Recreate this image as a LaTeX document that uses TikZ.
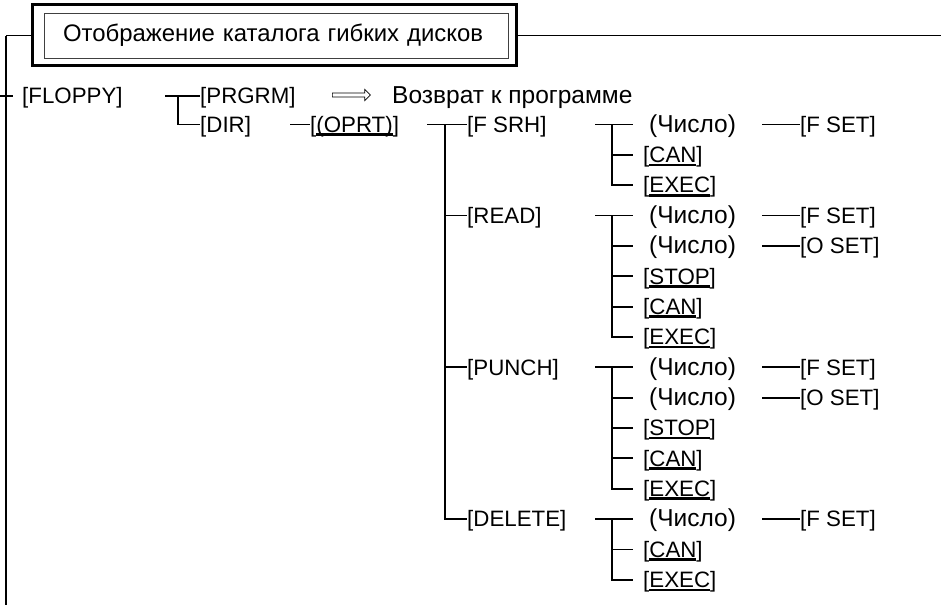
\documentclass[tikz,border=0pt]{standalone}
\usepackage{fontspec}
\setmainfont{Liberation Sans}
\usetikzlibrary{positioning,arrows.meta,shapes.arrows}

\newcommand{\keyul}[1]{\setbox0\hbox{#1}\rlap{\rule[-3.6pt]{\wd0}{2.6pt}}\box0}

\tikzset{
  menu/.style={anchor=west,inner sep=0pt,text height=17pt,text depth=1.5pt},
  cyr/.style={font=\fontsize{24.5pt}{28pt}\selectfont},
  numin/.style={menu,cyr,inner xsep=16pt},
  keyin/.style={menu,inner xsep=10pt},
  branch/.style={line width=1.8pt},
  titlebox/.style={draw=black!75,line width=0.8pt,minimum width=464pt,minimum height=45pt,
    text width=426pt,align=left,inner xsep=19pt,font=\fontsize{23.9pt}{28pt}\selectfont},
}

\begin{document}
\begin{tikzpicture}[x=1pt,y=-1pt,font=\fontsize{22.3pt}{26pt}\selectfont]
\useasboundingbox (0,0) rectangle (941,605);

% title frame
\node[titlebox] (title) at (276,35.5) {Отображение каталога гибких дисков};
\draw[line width=2.4pt] ([xshift=-11pt,yshift=8pt]title.north west) coordinate (boxNW)
  rectangle ([xshift=8pt,yshift=-7pt]title.south east) coordinate (boxSE);
\coordinate (topcorner) at (6,35.5);
\coordinate (bottomend) at (6,605);
\coordinate (topend) at (941,35.5);
\coordinate (tickL) at (0,96);
\coordinate (tickR) at (13,96);
\draw[line width=1pt] (boxNW |- title.west) -- (topcorner);
\draw[line width=1pt] (boxSE |- title.east) -- (topend);
\draw[branch] (topcorner) -- (bottomend);
\draw[branch] (tickL) -- (tickR);

% first level
\node[menu] (floppy) at (22,96) {[FLOPPY]};
\node[menu] (prgrm) at (200,96) {[PRGRM]};
\node[single arrow,draw,line width=0.7pt,inner sep=1.6pt,minimum height=38pt,
  single arrow head extend=3.6pt,anchor=west] (retarrow) at (332,95) {};
\node[menu,cyr] (rettext) at (392,95.5) {Возврат к программе};
\node[menu] (dir) at (200,124.5) {[DIR]};
\node[menu] (oprt) at (310,124.5) {[\keyul{(OPRT)}]};

\coordinate (floppyT) at (165,96);
\coordinate (floppyV) at (178,96);
\coordinate (dirT) at (290,124.5);
\draw[branch] (floppyT) -- (prgrm.west);
\draw[branch] (floppyV) |- (dir.west);
\draw[branch] (dirT) -- (oprt.west);

% operations
\node[menu] (fsrh) at (467,124.5) {[F SRH]};
\node[menu] (read) at (467,215.55) {[READ]};
\node[menu] (punch) at (467,367.3) {[PUNCH]};
\node[menu] (delete) at (467,519.05) {[DELETE]};

\coordinate (oprtT) at (427,124.5);
\coordinate (oprtV) at (445,124.5);
\draw[branch] (oprtT) -- (fsrh.west);
\draw[branch] (oprtV) |- (delete.west);
\draw[branch] (oprtV |- read.west) -- (read.west);
\draw[branch] (oprtV |- punch.west) -- (punch.west);

% F SRH
\node[numin] (fsrhnum) at (633,124.5) {(Число)};
\node[keyin] (fsrhcan) at (633,154.85) {[\keyul{CAN}]};
\node[keyin] (fsrhexec) at (633,185.2) {[\keyul{EXEC}]};
\node[menu] (fsrhfset) at (800,124.5) {[F SET]};
\coordinate (fsrhT) at (595,124.5);
\coordinate (fsrhV) at (612,124.5);
\draw[branch] (fsrhT) -- (fsrhnum.west);
\draw[branch] (fsrhV) |- (fsrhexec.west);
\draw[branch] (fsrhV |- fsrhcan.west) -- (fsrhcan.west);
\draw[branch] ([xshift=10pt]fsrhnum.east) -- (fsrhfset.west);

% READ
\node[numin] (readnum) at (633,215.55) {(Число)};
\node[numin] (readnumb) at (633,245.9) {(Число)};
\node[keyin] (readstop) at (633,276.25) {[\keyul{STOP}]};
\node[keyin] (readcan) at (633,306.6) {[\keyul{CAN}]};
\node[keyin] (readexec) at (633,336.95) {[\keyul{EXEC}]};
\node[menu] (readfset) at (800,215.55) {[F SET]};
\node[menu] (readoset) at (800,245.9) {[O SET]};
\coordinate (readT) at (595,215.55);
\coordinate (readV) at (612,215.55);
\draw[branch] (readT) -- (readnum.west);
\draw[branch] (readV) |- (readexec.west);
\draw[branch] (readV |- readnumb.west) -- (readnumb.west);
\draw[branch] (readV |- readstop.west) -- (readstop.west);
\draw[branch] (readV |- readcan.west) -- (readcan.west);
\draw[branch] ([xshift=10pt]readnum.east) -- (readfset.west);
\draw[branch] ([xshift=10pt]readnumb.east) -- (readoset.west);

% PUNCH
\node[numin] (punchnum) at (633,367.3) {(Число)};
\node[numin] (punchnumb) at (633,397.65) {(Число)};
\node[keyin] (punchstop) at (633,428) {[\keyul{STOP}]};
\node[keyin] (punchcan) at (633,458.35) {[\keyul{CAN}]};
\node[keyin] (punchexec) at (633,488.7) {[\keyul{EXEC}]};
\node[menu] (punchfset) at (800,367.3) {[F SET]};
\node[menu] (punchoset) at (800,397.65) {[O SET]};
\coordinate (punchT) at (595,367.3);
\coordinate (punchV) at (612,367.3);
\draw[branch] (punchT) -- (punchnum.west);
\draw[branch] (punchV) |- (punchexec.west);
\draw[branch] (punchV |- punchnumb.west) -- (punchnumb.west);
\draw[branch] (punchV |- punchstop.west) -- (punchstop.west);
\draw[branch] (punchV |- punchcan.west) -- (punchcan.west);
\draw[branch] ([xshift=10pt]punchnum.east) -- (punchfset.west);
\draw[branch] ([xshift=10pt]punchnumb.east) -- (punchoset.west);

% DELETE
\node[numin] (delnum) at (633,519.05) {(Число)};
\node[keyin] (delcan) at (633,549.4) {[\keyul{CAN}]};
\node[keyin] (delexec) at (633,579.75) {[\keyul{EXEC}]};
\node[menu] (delfset) at (800,519.05) {[F SET]};
\coordinate (delT) at (595,519.05);
\coordinate (delV) at (612,519.05);
\draw[branch] (delT) -- (delnum.west);
\draw[branch] (delV) |- (delexec.west);
\draw[branch] (delV |- delcan.west) -- (delcan.west);
\draw[branch] ([xshift=10pt]delnum.east) -- (delfset.west);
\end{tikzpicture}
\end{document}
